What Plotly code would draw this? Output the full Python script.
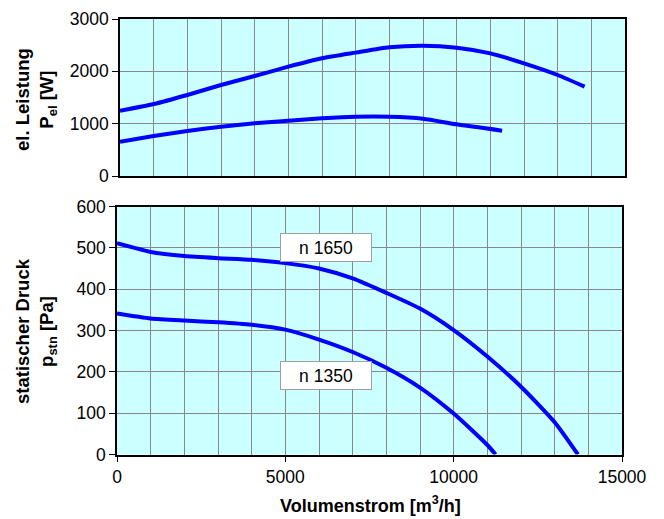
import plotly.graph_objects as go

# Electrical power (top panel)
p_x_1650 = [0, 1000, 2000, 3000, 4000, 5000, 6000, 7000, 8000, 9000, 10000, 11000, 12000, 13000, 13800]
p_y_1650 = [1245, 1375, 1548, 1739, 1911, 2089, 2249, 2357, 2459, 2490, 2452, 2344, 2153, 1930, 1707]
p_x_1350 = [0, 1000, 2000, 3000, 4000, 5000, 6000, 7000, 8000, 9000, 10000, 11350]
p_y_1350 = [655, 764, 860, 942, 1006, 1057, 1102, 1133, 1133, 1095, 987, 866]

# Static pressure (bottom panel)
d_x_1650 = [0, 1000, 2000, 3000, 4000, 5000, 6000, 7000, 8000, 9000, 10000, 11000, 12000, 13000, 13690]
d_y_1650 = [511, 490, 480, 475, 471, 463, 450, 426, 391, 353, 301, 237, 164, 78, 0]
d_x_1350 = [0, 1000, 2000, 3000, 4000, 5000, 6000, 7000, 8000, 9000, 10000, 11000, 11245]
d_y_1350 = [341, 329, 324, 320, 314, 302, 278, 248, 210, 162, 99, 23, 0]

labels = ["n 1650", "n 1350"]
label_pos = [(6200, 501), (6200, 191)]

W, H = 664, 519
OFF = 8  # page body margin
BLUE = "#0000FF"
BG = "#CCFFFF"
GRID = "#888888"
FONT = "Liberation Sans, Arial, sans-serif"

def px_x(a, b):
    return [(a - OFF) / W, (b - OFF) / W]

def px_y(top, bottom):
    return [1 - (bottom - OFF) / H, 1 - (top - OFF) / H]

def pxp_x(a):
    return (a - OFF) / W

def pxp_y(a):
    return 1 - (a - OFF) / H

fig = go.Figure()
line = dict(color=BLUE, width=4, shape="spline", smoothing=0.6)
fig.add_trace(go.Scatter(x=p_x_1650, y=p_y_1650, mode="lines", line=line, xaxis="x", yaxis="y"))
fig.add_trace(go.Scatter(x=p_x_1350, y=p_y_1350, mode="lines", line=line, xaxis="x", yaxis="y"))
fig.add_trace(go.Scatter(x=d_x_1650, y=d_y_1650, mode="lines", line=line, xaxis="x2", yaxis="y2"))
fig.add_trace(go.Scatter(x=d_x_1350, y=d_y_1350, mode="lines", line=line, xaxis="x2", yaxis="y2"))

tickfont = dict(family=FONT, size=17.5, color="black")
common_x = dict(range=[0, 15000], showgrid=True, gridcolor=GRID, gridwidth=1,
                zeroline=False, showline=True, linecolor="black", linewidth=1.5, mirror=True,
                minor=dict(dtick=1000, showgrid=True, gridcolor=GRID, gridwidth=1),
                dtick=5000, tickformat="d", tickfont=tickfont, fixedrange=True)

fig.update_layout(
    width=W, height=H,
    margin=dict(l=0, r=0, t=0, b=0, autoexpand=False),
    paper_bgcolor="white",
    plot_bgcolor=BG,
    showlegend=False,
    xaxis=dict(domain=px_x(120, 625), anchor="y", showticklabels=False, ticks="", **common_x),
    yaxis=dict(domain=px_y(19, 176), anchor="x", range=[0, 3000], dtick=1000,
               showgrid=True, gridcolor=GRID, zeroline=False, showline=True,
               linecolor="black", linewidth=1.5, mirror=True, ticks="outside", ticklen=6,
               tickcolor="black", tickfont=tickfont),
    xaxis2=dict(domain=px_x(117, 622), anchor="y2", showticklabels=True, ticks="outside",
                ticklen=6, tickcolor="black", **common_x),
    yaxis2=dict(domain=px_y(206.5, 454.5), anchor="x2", range=[0, 600], dtick=100,
                showgrid=True, gridcolor=GRID, zeroline=False, showline=True,
                linecolor="black", linewidth=1.5, mirror=True, ticks="outside", ticklen=6,
                tickcolor="black", tickfont=tickfont),
)

ann = []
for txt, (lx, ly) in zip(labels, label_pos):
    ann.append(dict(x=lx, y=ly, xref="x2", yref="y2", text=txt, showarrow=False,
                    font=dict(family=FONT, size=17.5, color="black"),
                    bgcolor="white", bordercolor="#A0A0A0", borderwidth=1,
                    borderpad=3, width=84, height=21))
ann.append(dict(x=pxp_x(370), y=pxp_y(504), xref="paper", yref="paper",
                xanchor="center", yanchor="middle",
                text="<b>Volumenstrom [m<sup>3</sup>/h]</b>", showarrow=False,
                font=dict(family=FONT, size=18, color="black")))
ann.append(dict(x=pxp_x(36), y=pxp_y(99), xref="paper", yref="paper", textangle=-90,
                xanchor="center", yanchor="middle",
                text="<b>el. Leistung<br>P<sub>el</sub> [W]</b>", showarrow=False,
                font=dict(family=FONT, size=18.5, color="black")))
ann.append(dict(x=pxp_x(36), y=pxp_y(331), xref="paper", yref="paper", textangle=-90,
                xanchor="center", yanchor="middle",
                text="<b>statischer Druck<br>p<sub>stn</sub> [Pa]</b>", showarrow=False,
                font=dict(family=FONT, size=18.5, color="black")))
fig.update_layout(annotations=ann)

fig.write_html("out.html")
